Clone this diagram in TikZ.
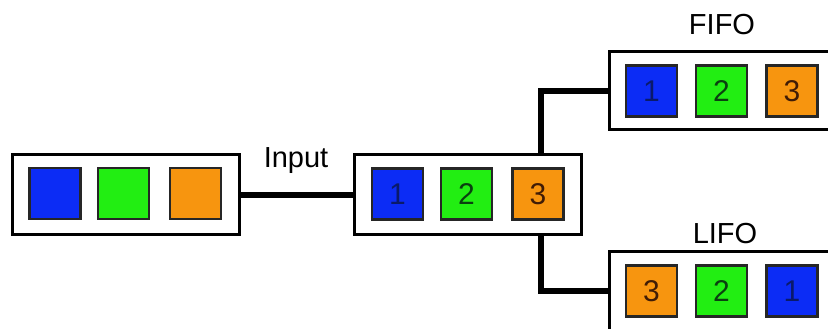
\documentclass[tikz,border=0pt]{standalone}
\usepackage{fontspec}
\setmainfont{Liberation Sans}
\definecolor{qblue}{HTML}{0C2CF5}
\definecolor{qgreen}{HTML}{22EE12}
\definecolor{qorange}{HTML}{F7950F}
\definecolor{dblue}{HTML}{0A1A6A}
\definecolor{dgreen}{HTML}{0A4010}
\definecolor{dorange}{HTML}{401C06}
\begin{document}
\begin{tikzpicture}[x=1pt,y=1pt,
  queue/.style={draw=black, line width=3pt, fill=white, minimum width=227pt,
    minimum height=80pt, inner sep=0pt},
  item/.style={draw=black!85, line width=2.6pt, minimum size=51pt, inner sep=0pt,
    font=\fontsize{30}{30}\selectfont},
  b/.style={item, fill=qblue, text=dblue},
  g/.style={item, fill=qgreen, text=dgreen},
  o/.style={item, fill=qorange, text=dorange},
  wire/.style={line width=6pt, line cap=rect},
  lbl/.style={font=\fontsize{29}{29}\selectfont}]
\useasboundingbox (0,0) rectangle (828,329);
\clip (0,0) rectangle (828,329);
\fill[white] (0,0) rectangle (828,329);

% source queue
\node[queue] (src) at (126,134) {};
\node[b] (s1) at (55,135.5) {};
\node[g] (s2) at (123.5,135.5) {};
\node[o] (s3) at (195.5,135.5) {};

% input queue
\node[queue] (mid) at (467.5,134) {};
\node[b] (m1) at (397.5,135) {1};
\node[g] (m2) at (466.5,135) {2};
\node[o] (m3) at (538,135) {3};

% FIFO output
\node[queue, minimum width=231pt, minimum height=78pt] (fifo) at (724.5,238) {};
\node[b] (f1) at (651.5,238) {1};
\node[g] (f2) at (721.5,238) {2};
\node[o] (f3) at (792,238) {3};

% LIFO output (runs past the lower edge)
\node[queue, minimum width=231pt, minimum height=92pt] (lifo) at (724.5,31) {};
\node[o] (l3) at (651.5,38) {3};
\node[g] (l2) at (721.5,38) {2};
\node[b] (l1) at (792,38) {1};

% labels
\node[lbl] (inlbl) at (296,168) {Input};
\node[lbl] (fifolbl) at (722,304) {FIFO};
\node[lbl] (lifolbl) at (725,95) {LIFO};

% connectors
\coordinate (up) at (541,0);
\coordinate (lifoin) at ([yshift=7pt]lifo.west);
\draw[line width=6pt] (src.east) -- (mid.west);
\draw[wire] (up |- mid.north) |- ([xshift=-1pt]fifo.west);
\draw[wire] (up |- mid.south) |- ([xshift=-1pt]lifoin);
\end{tikzpicture}
\end{document}
